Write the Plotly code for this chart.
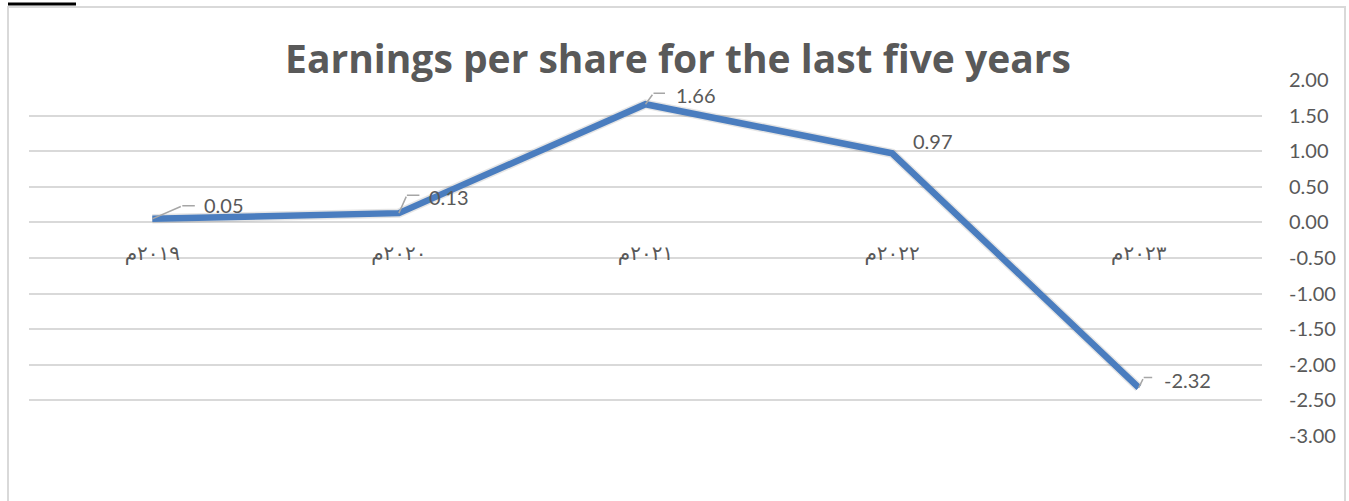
import plotly.graph_objects as go

# ---- data ----
categories = ["٢٠١٩م", "٢٠٢٠م", "٢٠٢١م", "٢٠٢٢م", "٢٠٢٣م"]
eps_values = [0.05, 0.13, 1.66, 0.97, -2.32]
label_texts = ["0.05", "0.13", "1.66", "0.97", "-2.32"]
y_tick_values = [2.0, 1.5, 1.0, 0.5, 0.0, -0.5, -1.0, -1.5, -2.0, -2.5, -3.0]
y_tick_labels = ["2.00", "1.50", "1.00", "0.50", "0.00", "-0.50", "-1.00",
                 "-1.50", "-2.00", "-2.50", "-3.00"]
title_text = "Earnings per share for the last five years"

# ---- styling (pixel offsets for data labels and leader lines) ----
label_shift = [(52, 14), (30, 16), (30, 9), (21, 12), (25, 8)]
leader_seg1 = [(30, -13), (8, -18), (8, -11), None, (5, -10)]
leader_seg2 = [14, 14, 13, None, 10]

W, H = 1349, 501
ML, MR, MT, MB = 29, 87, 80, 65
PW, PH = W - ML - MR, H - MT - MB

GRID = "#d9d9d9"
TXT = "#595959"
LINE = "#4a7dbf"

fig = go.Figure()
# soft shadow beneath the line
fig.add_trace(go.Scatter(
    x=categories, y=eps_values, mode="lines",
    line=dict(color="rgba(0,0,0,0.10)", width=9.5),
    hoverinfo="skip", showlegend=False,
))
fig.add_trace(go.Scatter(
    x=categories, y=eps_values, mode="lines",
    line=dict(color=LINE, width=6.5),
    hoverinfo="x+y", showlegend=False,
))

annotations = []
for i, (c, v) in enumerate(zip(categories, eps_values)):
    dx, dy = label_shift[i]
    annotations.append(dict(
        x=c, y=v, xref="x", yref="y", text=label_texts[i], showarrow=False,
        xanchor="left", yanchor="middle", xshift=dx - 2, yshift=dy,
        font=dict(family="Lato", size=20, color=TXT),
    ))
    if leader_seg1[i] is not None:
        ax1, ay1 = leader_seg1[i]
        annotations.append(dict(
            x=c, y=v, xref="x", yref="y", text="", showarrow=True,
            ax=ax1, ay=ay1, arrowhead=0, arrowwidth=1.5, arrowcolor="#a6a6a6",
            standoff=0, startstandoff=0,
        ))
        annotations.append(dict(
            x=c, y=v, xref="x", yref="y", text="", showarrow=True,
            xshift=ax1, yshift=-ay1,
            ax=leader_seg2[i], ay=0, arrowhead=0, arrowwidth=1.5,
            arrowcolor="#a6a6a6", standoff=0, startstandoff=0,
        ))

# chart border and stray document underline (decoration)
def px_x(p):
    return (p - ML) / PW

def px_y(p):
    return (H - MB - p) / PH

shapes = [
    dict(type="rect", xref="paper", yref="paper",
         x0=px_x(8), x1=px_x(1345), y0=px_y(520), y1=px_y(7),
         line=dict(color=GRID, width=2), fillcolor="rgba(0,0,0,0)", layer="below"),
    dict(type="line", xref="paper", yref="paper",
         x0=px_x(8), x1=px_x(76), y0=px_y(4), y1=px_y(4),
         line=dict(color="black", width=3)),
]

fig.update_layout(
    width=W, height=H,
    margin=dict(l=ML, r=MR, t=MT, b=MB, pad=0),
    paper_bgcolor="white", plot_bgcolor="white",
    title=dict(text=title_text, x=678 / W, xanchor="center", xref="container",
               y=1 - 59 / H, yanchor="middle",
               font=dict(family="Open Sans", size=39, color=TXT, weight="bold")),
    xaxis=dict(
        type="category", range=[-0.5, 4.5], showgrid=False, zeroline=False,
        showline=False, ticks="", anchor="free", position=0.6,
        ticklabelstandoff=17,
        tickfont=dict(family="DejaVu Sans", size=20, color=TXT),
    ),
    yaxis=dict(
        range=[-3, 2], side="right", tickvals=y_tick_values, ticktext=y_tick_labels,
        showgrid=True, gridcolor=GRID, gridwidth=2, zeroline=True,
        zerolinecolor=GRID, zerolinewidth=2, showline=False, ticks="",
        ticklabelstandoff=26,
        tickfont=dict(family="Lato", size=20, color=TXT),
    ),
    annotations=annotations,
    shapes=shapes,
    showlegend=False,
)

fig.write_html("out.html")
